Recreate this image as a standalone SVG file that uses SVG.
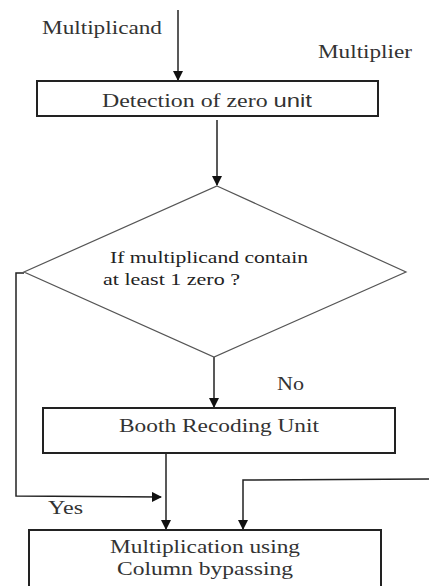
<svg xmlns="http://www.w3.org/2000/svg" width="429" height="586" viewBox="0 0 429 586">
<style>
.t{font-family:"Liberation Serif","Times New Roman",serif;font-size:18px;fill:#333}
.d{font-size:16px;fill:#222}
.s{font-family:"Liberation Sans",Arial,sans-serif}
.box{fill:#fff;stroke:#222;stroke-width:2}
.ln{fill:none;stroke:#222;stroke-width:1.5}
.dm{fill:#fff;stroke:#555;stroke-width:1.2}
</style>
<defs>
<marker id="ah" markerWidth="10" markerHeight="10" refX="9" refY="5" orient="auto" markerUnits="userSpaceOnUse">
<path d="M0,0 L10,5 L0,10 z" fill="#111"/>
</marker>
</defs>
<g id="connectors">
<line class="ln" x1="178" y1="10" x2="178" y2="80" marker-end="url(#ah)"/>
<line class="ln" x1="217" y1="120" x2="217" y2="185" marker-end="url(#ah)"/>
<line class="ln" x1="214" y1="357" x2="214" y2="407" marker-end="url(#ah)"/>
<line class="ln" x1="166" y1="454" x2="166" y2="529" marker-end="url(#ah)"/>
<polyline class="ln" points="24,273 16,273 16,496 161,497" marker-end="url(#ah)"/>
<polyline class="ln" points="429,479 243,480 243,529" marker-end="url(#ah)"/>
</g>
<g id="label-multiplicand"><text class="t" x="42" y="34" textLength="120" lengthAdjust="spacingAndGlyphs">Multiplicand</text></g>
<g id="label-multiplier"><text class="t" x="318" y="58" textLength="94" lengthAdjust="spacingAndGlyphs">Multiplier</text></g>
<g id="detection">
<rect class="box" x="37" y="81" width="341" height="35"/>
<text class="t" x="102" y="107" textLength="210" lengthAdjust="spacingAndGlyphs">Detection of zero <tspan class="s">unit</tspan></text>
</g>
<g id="decision">
<polygon class="dm" points="217,186 406,272 214,357 24,272"/>
<text class="t d" x="110" y="263" textLength="198" lengthAdjust="spacingAndGlyphs">If multiplicand  contain</text>
<text class="t d" x="103" y="285" textLength="137" lengthAdjust="spacingAndGlyphs">at least 1  zero ?</text>
</g>
<g id="label-no"><text class="t" x="277" y="390" textLength="27" lengthAdjust="spacingAndGlyphs">No</text></g>
<g id="booth">
<rect class="box" x="43" y="408" width="352" height="45"/>
<text class="t" x="119" y="432" textLength="200" lengthAdjust="spacingAndGlyphs">Booth Recoding Unit</text>
</g>
<g id="label-yes"><text class="t" x="48" y="514" textLength="35" lengthAdjust="spacingAndGlyphs">Yes</text></g>
<g id="multiplication">
<rect class="box" x="29" y="530" width="352" height="70"/>
<text class="t" x="110" y="553" textLength="190" lengthAdjust="spacingAndGlyphs">Multiplication using</text>
<text class="t" x="117" y="575" textLength="176" lengthAdjust="spacingAndGlyphs">Column bypassing</text>
</g>
</svg>
